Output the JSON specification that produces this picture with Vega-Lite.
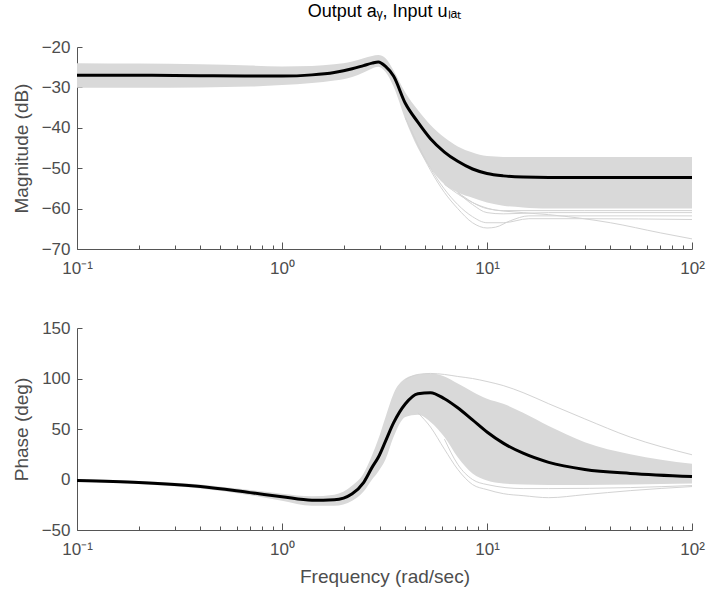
{
  "$schema": "https://vega.github.io/schema/vega-lite/v6.json",
  "background": "white",
  "padding": {"left": 12, "top": 3, "right": 5, "bottom": 5},
  "bounds": "flush",
  "spacing": 79,
  "config": {
    "font": "Liberation Sans",
    "view": {"stroke": null},
    "axis": {
      "grid": false,
      "domainColor": "#555555",
      "tickColor": "#555555",
      "labelColor": "#4d4d4d",
      "titleColor": "#4d4d4d",
      "labelFontSize": 17,
      "titleFontSize": 19,
      "titleFontWeight": "normal",
      "tickSize": -5,
      "domainWidth": 1,
      "tickWidth": 1
    },
    "axisY": {"labelPadding": 12, "minExtent": 36, "maxExtent": 36, "titlePadding": 10},
    "axisX": {"labelPadding": 18, "titlePadding": 10, "labelFlush": false}
  },
  "datasets": {
    "mag": [
      {"f": 0.1, "lo": -30.1, "hi": -24.0, "nom": -27.0},
      {"f": 0.2, "lo": -30.1, "hi": -24.1, "nom": -27.0},
      {"f": 0.4, "lo": -30.0, "hi": -24.3, "nom": -27.1},
      {"f": 0.7, "lo": -29.8, "hi": -24.6, "nom": -27.2},
      {"f": 1.0, "lo": -29.4, "hi": -24.8, "nom": -27.2},
      {"f": 1.4, "lo": -28.9, "hi": -24.7, "nom": -26.9},
      {"f": 1.8, "lo": -28.3, "hi": -24.3, "nom": -26.3},
      {"f": 2.2, "lo": -27.4, "hi": -23.6, "nom": -25.4},
      {"f": 2.5, "lo": -26.3, "hi": -22.8, "nom": -24.6},
      {"f": 2.75, "lo": -25.3, "hi": -22.2, "nom": -24.0},
      {"f": 2.95, "lo": -24.9, "hi": -22.0, "nom": -23.7},
      {"f": 3.2, "lo": -26.2, "hi": -22.8, "nom": -24.8},
      {"f": 3.5, "lo": -29.8, "hi": -25.8, "nom": -27.2},
      {"f": 4.0, "lo": -38.0, "hi": -31.3, "nom": -34.0},
      {"f": 4.6, "lo": -45.0, "hi": -35.6, "nom": -38.6},
      {"f": 5.3, "lo": -50.0, "hi": -39.3, "nom": -42.7},
      {"f": 6.2, "lo": -54.0, "hi": -42.4, "nom": -46.0},
      {"f": 7.2, "lo": -56.0, "hi": -44.6, "nom": -48.3},
      {"f": 8.5, "lo": -57.3, "hi": -46.1, "nom": -50.2},
      {"f": 10, "lo": -58.5, "hi": -47.0, "nom": -51.3},
      {"f": 12, "lo": -59.3, "hi": -47.2, "nom": -51.9},
      {"f": 15, "lo": -59.7, "hi": -47.2, "nom": -52.2},
      {"f": 20, "lo": -60.0, "hi": -47.2, "nom": -52.3},
      {"f": 30, "lo": -60.0, "hi": -47.2, "nom": -52.3},
      {"f": 50, "lo": -60.0, "hi": -47.2, "nom": -52.3},
      {"f": 100, "lo": -60.0, "hi": -47.2, "nom": -52.3}
    ],
    "magout": [
      {"id": "a", "f": 4.0, "v": -37.5}, {"id": "a", "f": 5.3, "v": -50.5}, {"id": "a", "f": 6.2, "v": -56.0}, {"id": "a", "f": 7.2, "v": -60.0}, {"id": "a", "f": 8.5, "v": -63.5}, {"id": "a", "f": 10, "v": -64.8}, {"id": "a", "f": 11, "v": -64.6}, {"id": "a", "f": 13, "v": -63.0}, {"id": "a", "f": 16, "v": -61.8}, {"id": "a", "f": 25, "v": -61.8}, {"id": "a", "f": 100, "v": -61.8},
      {"id": "b", "f": 4.0, "v": -37.5}, {"id": "b", "f": 5.3, "v": -50.0}, {"id": "b", "f": 7.2, "v": -59.0}, {"id": "b", "f": 8.5, "v": -62.0}, {"id": "b", "f": 10, "v": -63.5}, {"id": "b", "f": 12, "v": -63.5}, {"id": "b", "f": 16, "v": -62.5}, {"id": "b", "f": 30, "v": -62.5}, {"id": "b", "f": 100, "v": -62.7},
      {"id": "c", "f": 7.2, "v": -56.0}, {"id": "c", "f": 10, "v": -60.0}, {"id": "c", "f": 15, "v": -61.0}, {"id": "c", "f": 20, "v": -61.5}, {"id": "c", "f": 40, "v": -63.5}, {"id": "c", "f": 70, "v": -66.0}, {"id": "c", "f": 100, "v": -67.5},
      {"id": "d", "f": 7.2, "v": -56.0}, {"id": "d", "f": 8.5, "v": -59.0}, {"id": "d", "f": 10, "v": -61.0}, {"id": "d", "f": 12, "v": -61.3}, {"id": "d", "f": 20, "v": -61.0}, {"id": "d", "f": 100, "v": -61.0},
      {"id": "e", "f": 6.2, "v": -54.0}, {"id": "e", "f": 8.5, "v": -58.5}, {"id": "e", "f": 12, "v": -60.5}, {"id": "e", "f": 30, "v": -60.5}, {"id": "e", "f": 100, "v": -60.5}
    ],
    "ph": [
      {"f": 0.1, "lo": -2.0, "hi": 0.5, "nom": -1.0},
      {"f": 0.2, "lo": -4.5, "hi": -1.5, "nom": -3.0},
      {"f": 0.4, "lo": -9.0, "hi": -5.0, "nom": -7.0},
      {"f": 0.7, "lo": -15.5, "hi": -10.5, "nom": -13.0},
      {"f": 1.0, "lo": -21.0, "hi": -14.0, "nom": -17.0},
      {"f": 1.4, "lo": -26.0, "hi": -16.5, "nom": -20.5},
      {"f": 1.8, "lo": -26.0, "hi": -15.0, "nom": -20.0},
      {"f": 2.2, "lo": -21.0, "hi": -6.0, "nom": -14.0},
      {"f": 2.5, "lo": -12.0, "hi": 6.0, "nom": -3.0},
      {"f": 2.75, "lo": 0.0, "hi": 24.0, "nom": 12.0},
      {"f": 2.95, "lo": 8.0, "hi": 40.0, "nom": 22.0},
      {"f": 3.2, "lo": 20.0, "hi": 62.0, "nom": 38.0},
      {"f": 3.5, "lo": 42.0, "hi": 85.0, "nom": 56.0},
      {"f": 4.0, "lo": 62.0, "hi": 100.0, "nom": 75.0},
      {"f": 4.6, "lo": 64.0, "hi": 104.0, "nom": 85.0},
      {"f": 5.3, "lo": 57.0, "hi": 105.0, "nom": 86.0},
      {"f": 6.2, "lo": 42.0, "hi": 102.0, "nom": 80.0},
      {"f": 7.2, "lo": 22.0, "hi": 95.0, "nom": 71.0},
      {"f": 8.5, "lo": 6.0, "hi": 87.0, "nom": 59.0},
      {"f": 10, "lo": -1.0, "hi": 80.0, "nom": 47.0},
      {"f": 12, "lo": -4.0, "hi": 75.0, "nom": 36.0},
      {"f": 15, "lo": -5.0, "hi": 66.0, "nom": 26.0},
      {"f": 20, "lo": -5.5, "hi": 53.0, "nom": 17.0},
      {"f": 30, "lo": -5.5, "hi": 37.0, "nom": 10.0},
      {"f": 50, "lo": -5.0, "hi": 25.0, "nom": 6.0},
      {"f": 100, "lo": -4.0, "hi": 15.5, "nom": 3.0}
    ],
    "phout": [
      {"id": "p1", "f": 4.0, "v": 99}, {"id": "p1", "f": 4.6, "v": 104}, {"id": "p1", "f": 5.3, "v": 105}, {"id": "p1", "f": 6.2, "v": 104}, {"id": "p1", "f": 7.2, "v": 102}, {"id": "p1", "f": 8.5, "v": 100}, {"id": "p1", "f": 10, "v": 97}, {"id": "p1", "f": 12, "v": 93}, {"id": "p1", "f": 15, "v": 86}, {"id": "p1", "f": 20, "v": 75}, {"id": "p1", "f": 30, "v": 60}, {"id": "p1", "f": 50, "v": 42}, {"id": "p1", "f": 100, "v": 24.5},
      {"id": "p2", "f": 4.6, "v": 66}, {"id": "p2", "f": 5.3, "v": 52}, {"id": "p2", "f": 6.2, "v": 30}, {"id": "p2", "f": 7.2, "v": 10}, {"id": "p2", "f": 8.5, "v": -5}, {"id": "p2", "f": 10, "v": -10}, {"id": "p2", "f": 12, "v": -14}, {"id": "p2", "f": 15, "v": -16}, {"id": "p2", "f": 20, "v": -18}, {"id": "p2", "f": 30, "v": -15}, {"id": "p2", "f": 50, "v": -11}, {"id": "p2", "f": 100, "v": -7},
      {"id": "p3", "f": 6.2, "v": 40}, {"id": "p3", "f": 7.2, "v": 15}, {"id": "p3", "f": 8.5, "v": 0}, {"id": "p3", "f": 10, "v": -5}, {"id": "p3", "f": 15, "v": -9}, {"id": "p3", "f": 20, "v": -9}, {"id": "p3", "f": 50, "v": -8}, {"id": "p3", "f": 100, "v": -6}
    ]
  },
  "vconcat": [
    {
      "width": 615,
      "height": 202,
      "title": {"text": "Output aᵧ, Input uₗₐₜ", "frame": "group", "anchor": "middle", "fontSize": 18, "fontWeight": "normal", "color": "#000000", "offset": 17},
      "encoding": {
        "x": {"field": "f", "type": "quantitative", "scale": {"type": "log", "domain": [0.1, 100], "nice": false},
          "axis": {"title": null, "values": [0.1,0.2,0.3,0.4,0.5,0.6,0.7,0.8,0.9,1,2,3,4,5,6,7,8,9,10,20,30,40,50,60,70,80,90,100],
            "labelExpr": "datum.value == 0.1 ? '10⁻¹' : datum.value == 1 ? '10⁰' : datum.value == 10 ? '10¹' : datum.value == 100 ? '10²' : ''",
            "tickSize": {"condition": {"test": "datum.value == 0.1 || datum.value == 1 || datum.value == 10 || datum.value == 100", "value": -7}, "value": -4}}}
      },
      "layer": [
        {"data": {"name": "mag"}, "mark": {"type": "area", "color": "#d9d9d9", "interpolate": "monotone"},
          "encoding": {"y": {"field": "lo", "type": "quantitative", "scale": {"domain": [-70, -20], "nice": false, "zero": false}, "axis": {"title": "Magnitude (dB)", "values": [-70, -60, -50, -40, -30, -20]}}, "y2": {"field": "hi"}}},
        {"data": {"name": "magout"}, "mark": {"type": "line", "color": "#d3d3d3", "strokeWidth": 1, "interpolate": "monotone"},
          "encoding": {"y": {"field": "v", "type": "quantitative"}, "detail": {"field": "id"}}},
        {"data": {"name": "mag"}, "mark": {"type": "line", "color": "#000000", "strokeWidth": 3, "interpolate": "monotone"},
          "encoding": {"y": {"field": "nom", "type": "quantitative"}}}
      ]
    },
    {
      "width": 615,
      "height": 202,
      "encoding": {
        "x": {"field": "f", "type": "quantitative", "scale": {"type": "log", "domain": [0.1, 100], "nice": false},
          "axis": {"title": "Frequency (rad/sec)", "values": [0.1,0.2,0.3,0.4,0.5,0.6,0.7,0.8,0.9,1,2,3,4,5,6,7,8,9,10,20,30,40,50,60,70,80,90,100],
            "labelExpr": "datum.value == 0.1 ? '10⁻¹' : datum.value == 1 ? '10⁰' : datum.value == 10 ? '10¹' : datum.value == 100 ? '10²' : ''",
            "tickSize": {"condition": {"test": "datum.value == 0.1 || datum.value == 1 || datum.value == 10 || datum.value == 100", "value": -7}, "value": -4}}}
      },
      "layer": [
        {"data": {"name": "ph"}, "mark": {"type": "area", "color": "#d9d9d9", "interpolate": "monotone"},
          "encoding": {"y": {"field": "lo", "type": "quantitative", "scale": {"domain": [-50, 150], "nice": false, "zero": false}, "axis": {"title": "Phase (deg)", "values": [-50, 0, 50, 100, 150]}}, "y2": {"field": "hi"}}},
        {"data": {"name": "phout"}, "mark": {"type": "line", "color": "#d3d3d3", "strokeWidth": 1, "interpolate": "monotone"},
          "encoding": {"y": {"field": "v", "type": "quantitative"}, "detail": {"field": "id"}}},
        {"data": {"name": "ph"}, "mark": {"type": "line", "color": "#000000", "strokeWidth": 3, "interpolate": "monotone"},
          "encoding": {"y": {"field": "nom", "type": "quantitative"}}}
      ]
    }
  ]
}
